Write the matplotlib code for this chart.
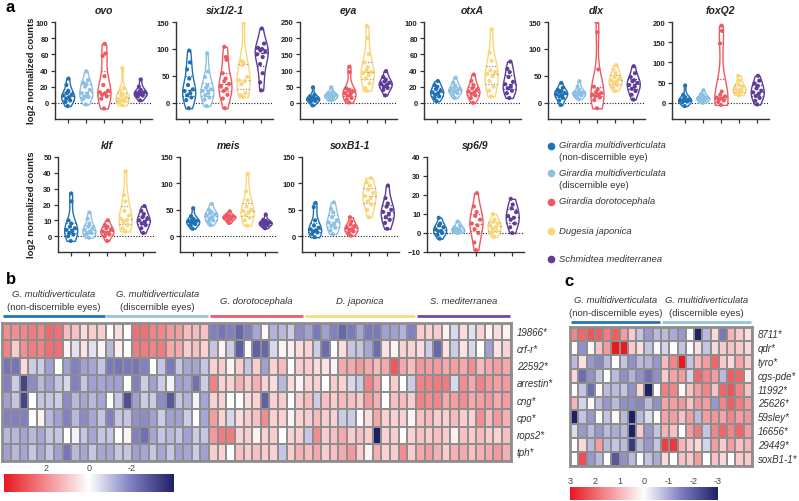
import numpy as np
import matplotlib
matplotlib.use('Agg')
import matplotlib.pyplot as plt
from matplotlib.colors import LinearSegmentedColormap, Normalize, to_rgb
from matplotlib.lines import Line2D
from matplotlib import mlab

plt.rcParams['font.family'] = ['Liberation Sans', 'DejaVu Sans']

# ---------------- data: panel a (violins) ----------------
groups = ['Girardia multidiverticulata', 'Girardia multidiverticulata',
          'Girardia dorotocephala', 'Dugesia japonica', 'Schmidtea mediterranea']
group_sub = ['(non-discernible eye)', '(discernible eye)', '', '', '']
group_colors = ['#2171b5', '#8cc1e4', '#ef5a62', '#fcd574', '#5e3c99']

genes_row1 = ['ovo', 'six1/2-1', 'eya', 'otxA', 'dlx', 'foxQ2']
genes_row2 = ['klf', 'meis', 'soxB1-1', 'sp6/9']
ymax_row1 = [100, 150, 250, 100, 150, 200]
ystep_row1 = [20, 50, 50, 20, 50, 50]
ymax_row2 = [50, 150, 150, 40]
ystep_row2 = [10, 50, 50, 10]
ymin_row2 = [-10, -30, -30, -10]

ovo = [[30, 22, 15, 12, 10, 9, 7, 5, 3, 1, -4],
       [39, 28, 25, 23, 20, 16, 12, 10, 8, 7, 5, -2],
       [73, 61, 58, 33, 22, 15, 13, 12, 10, 8, 5, -7],
       [43, 18, 15, 11, 9, 7, 5, 4, 3, 2, 1, -3],
       [29, 20, 16, 14, 13, 12, 11, 10, 9, 8, 3]]
six12 = [[97, 75, 62, 45, 33, 25, 22, 18, 14, 10, 5, -10],
         [92, 58, 48, 32, 28, 25, 22, 18, 14, 10, 6, -6],
         [104, 85, 80, 55, 45, 40, 35, 30, 26, 22, 15, 8, -10],
         [148, 78, 75, 70, 48, 42, 40, 35, 18, 14, 11],
         [138, 110, 102, 100, 97, 95, 90, 85, 72, 55, 38, 23]]
eya = [[48, 25, 20, 18, 15, 13, 12, 10, 8, 6, 3, -8],
       [48, 35, 30, 28, 26, 24, 22, 20, 18, 15, 10, 8],
       [112, 95, 45, 40, 38, 35, 30, 26, 22, 15, 10, 1],
       [238, 200, 150, 125, 110, 100, 95, 92, 85, 75, 60, 45, 37],
       [98, 80, 72, 66, 62, 58, 55, 50, 46, 40, 23]]
otxA = [[27, 22, 20, 17, 15, 13, 12, 10, 8, 6, 2],
        [31, 25, 21, 19, 17, 16, 15, 14, 12, 10, 6],
        [35, 27, 22, 18, 16, 14, 13, 11, 9, 6, 0],
        [91, 62, 52, 40, 38, 36, 33, 27, 20, 15, 8],
        [51, 42, 38, 32, 26, 23, 20, 18, 15, 12, 6]]
dlx = [[37, 28, 24, 22, 20, 18, 16, 14, 12, 9, 4, -4],
       [40, 30, 24, 21, 19, 18, 17, 16, 14, 12, 7],
       [150, 131, 62, 30, 25, 20, 18, 15, 14, 12, 10, 5, -10],
       [70, 62, 55, 48, 45, 42, 40, 37, 33, 29, 22],
       [68, 55, 48, 42, 40, 37, 33, 30, 26, 22, 15, 6]]
foxQ2 = [[43, 20, 14, 10, 8, 6, 5, 4, 3, 1, -8],
         [31, 22, 18, 15, 13, 12, 10, 9, 7, 4, 0],
         [191, 178, 147, 28, 20, 16, 13, 11, 9, 6, 2, -5],
         [67, 55, 45, 40, 36, 33, 30, 27, 24, 19],
         [67, 55, 48, 42, 36, 30, 26, 22, 17, 12, 5, -4]]
klf = [[27, 22, 10, 8, 6, 5, 4, 3, 2, 1, 0, -3],
       [15, 11, 8, 6, 5, 4, 3, 2, 2, 1, -1],
       [10, 7, 6, 5, 4, 3, 2, 2, 1, 0, -3],
       [41, 26, 22, 16, 13, 11, 10, 9, 7, 5, 3],
       [19, 16, 14, 12, 11, 10, 9, 8, 7, 5, 2]]
meis = [[53, 38, 33, 31, 29, 28, 27, 25, 23, 20, 14],
        [61, 50, 46, 43, 41, 39, 36, 33, 30, 27, 21],
        [47, 41, 39, 38, 37, 36, 35, 34, 32, 29, 25],
        [118, 85, 68, 56, 50, 48, 45, 40, 35, 30, 20],
        [41, 31, 29, 27, 26, 25, 24, 23, 21, 19, 15]]
soxB11 = [[63, 55, 30, 20, 16, 13, 11, 9, 7, 4, -2],
          [64, 52, 45, 36, 30, 26, 23, 20, 16, 11, 4],
          [36, 28, 22, 19, 16, 14, 12, 9, 6, 1],
          [110, 102, 96, 88, 82, 76, 72, 66, 60, 50, 36],
          [96, 72, 62, 56, 50, 46, 41, 36, 31, 25, 14]]
sp69 = [[8, 5, 4, 3, 2, 1, 1, 0, -1, -3],
        [6, 4, 3, 2, 2, 1, 1, 0],
        [21, 14, 11, 9, 7, 5, 4, 2, 0, -5, -9],
        [10, 7, 6, 5, 4, 3, 2, 1, 0, -2],
        [18, 15, 13, 11, 9, 8, 7, 5, 3, 0]]

# ---------------- data: panel b heatmap ----------------
b_genes = ['19866*', 'crf-r*', '22592*', 'arrestin*', 'cng*', 'cpo*', 'rops2*', 'tph*']
b_groups = ['G. multidiverticulata', 'G. multidiverticulata', 'G. dorotocephala',
            'D. japonica', 'S. mediterranea']
b_group_sub = ['(non-discernible eyes)', '(discernible eyes)', '', '', '']
b_group_sizes = [12, 12, 11, 13, 11]
b_19866 = [2.0, 2.0, 2.1, 2.3, 2.1, 2.6, 2.5, 1.2, 1.1, 0.6, 0.9, 0.9,
           0.0, 0.6, 0.0, 2.5, 2.5, 2.2, 2.1, 1.8, 1.7, 1.2, 1.2, 1.1,
           -2.0, -2.2, -2.0, -2.5, -2.0, -1.4, 0.1, -1.2, -1.1, -0.8, -1.8,
           -1.5, -2.1, -1.5, -2.0, -2.5, -2.1, -1.4, -2.1, -2.1, -1.5, -1.5, -1.2, -2.0,
           0.9, 0.8, 0.9, 0.2, -0.6, 0.6, -0.5, 0.8, 0.2, 0.6, 0.2]
b_crfr = [2.2, 0.9, 2.0, 2.3, 2.2, 2.5, 2.5, 0.2, -0.5, 0.5, -0.5, 0.2,
          -1.1, 0.3, 0.0, 2.3, 2.3, 2.2, 2.3, 1.5, 1.5, 0.9, 1.1, 0.8,
          -0.9, 0.2, -0.8, -2.7, 0.0, -2.6, -2.5, -0.6, 0.2, 0.3, 0.6,
          0.8, -0.8, -2.4, 0.0, 0.6, -0.9, -0.9, -1.4, -2.4, 0.5, 0.2, 0.8, 0.8,
          0.6, -0.8, -2.5, 0.5, -0.8, 0.5, -0.6, 0.0, -1.5, 0.5, 0.8]
b_22592 = [-2.2, -2.2, 0.6, -0.8, -0.8, -1.5, 0.0, -1.5, -2.0, -1.5, -1.4, -0.9,
           -2.1, -2.2, -2.1, -2.2, -2.0, 0.0, -0.9, -2.1, -0.9, -1.4, -1.4, -0.9,
           0.8, 0.9, 0.2, 0.9, -0.9, 0.9, -1.5, 0.8, 1.2, 0.0, 0.9,
           0.9, 0.6, 0.5, 0.2, 1.5, 1.5, 1.8, 1.5, 1.2, 1.5, 2.9, 1.5, 1.2,
           1.8, 1.7, 1.8, 1.5, 1.7, 1.5, 2.0, 1.2, 1.5, 1.7, 1.5]
b_arrestin = [-2.0, -0.8, -3.2, -1.8, -1.1, -1.5, -0.9, -0.6, -2.0, -0.9, -1.5, -1.4,
              -1.5, -1.5, 0.0, -2.0, -0.8, -1.5, -0.8, -0.2, -1.5, -1.4, -2.3, -0.8,
              2.2, 0.8, 0.8, 1.4, 0.9, 1.4, 0.8, 0.6, -1.1, 0.6, 0.2,
              0.8, 0.8, 0.0, 0.9, 0.8, -0.6, -0.8, 2.2, 1.5, 0.0, 0.9, 0.0, -0.8,
              2.2, 2.2, 2.3, 2.3, -0.6, 2.0, 1.5, 2.2, 1.8, 1.7, 1.8]
b_cng = [-1.5, -0.9, -3.2, 0.0, -0.9, -0.9, -0.8, -1.8, -1.1, -1.4, -1.1, -1.4,
         0.0, -0.9, -3.0, -1.5, -0.8, -0.8, -1.8, -2.8, -0.9, -1.2, -0.2, -1.4,
         0.8, 0.8, 0.0, 0.0, 0.6, 0.8, -2.6, 0.8, 0.9, 0.0, 0.9,
         1.2, -0.8, 1.1, 0.9, 1.2, 1.1, 0.9, 1.8, 1.4, 0.0, 1.1, 1.2, 0.9,
         2.2, 2.0, 2.1, 1.5, 1.7, 2.0, 1.5, 1.7, 1.8, 1.5, 1.7]
b_cpo = [-2.0, -2.0, -2.0, 0.0, 0.2, -1.1, -1.5, -2.0, -1.1, -1.8, -1.4, -0.9,
         -2.0, -0.9, -0.9, -1.7, -1.8, -1.5, -0.8, -1.5, -1.5, -0.8, 0.0, -1.4,
         1.7, 0.8, -0.6, 0.6, 0.9, 1.1, 2.0, 0.8, 0.8, 0.2, 0.8,
         0.9, 1.2, 0.9, 0.8, -0.8, -0.8, 0.0, 0.6, 1.5, 0.8, 0.8, 0.8, 0.2,
         1.1, 1.2, 0.9, 0.8, 1.2, 0.9, 0.8, 2.0, 1.2, 1.8, 1.4]
b_rops2 = [-1.1, -1.1, -1.4, -1.1, -1.4, -0.9, -0.9, 0.0, -0.2, -0.9, -1.4, -0.9,
           -0.9, 0.0, 0.2, -2.0, -2.3, -1.4, -0.9, -1.1, -0.9, -1.5, -0.8, -0.9,
           1.8, 2.3, 2.3, 0.8, 0.9, 0.2, 0.8, 0.9, 0.0, 0.8, 0.9,
           -0.9, 2.0, 0.9, 1.1, 1.5, 0.9, 1.1, 0.9, -4.0, 0.8, 0.9, 0.0, 0.8,
           1.1, 0.9, 1.1, 0.9, 0.2, 1.1, 0.9, 1.2, 0.9, 0.8, 1.1]
b_tph = [-1.5, -1.1, -1.4, -0.9, -1.4, -0.9, -1.5, -2.2, -1.1, -1.4, -0.9, -1.4,
         -1.4, -0.9, -0.9, -1.5, -1.4, -0.9, -1.4, -0.9, -1.5, -1.4, -0.8, -1.5,
         0.9, 0.8, 0.0, 1.1, 0.9, 1.1, 0.9, 0.8, -0.9, 0.9, 1.4,
         1.2, 1.5, 0.9, 1.1, 1.5, 1.8, 0.9, 0.2, 1.4, 0.8, 0.9, 2.0, 0.9,
         1.5, 1.7, 1.4, 0.9, 1.4, 1.5, 1.1, 1.4, 1.5, 1.8, 1.4]
b_ticks = [2, 0, -2]

# ---------------- data: panel c heatmap ----------------
c_genes = ['8711*', 'qdr*', 'tyro*', 'cgs-pde*', '11992*', '25626*', '59sley*',
           '16656*', '29449*', 'soxB1-1*']
c_group_sizes = [11, 11]
c_8711 = [1.6, 2.0, 2.2, 2.1, 1.7, 2.1, 1.3, 0.7, -0.7, -1.2, -0.8,
          -0.8, -1.0, -1.2, 0.0, -3.0, -0.8, 0.5, -1.6, 1.0, 0.7, 0.4]
c_qdr = [0.0, -1.3, 0.1, 0.8, 1.3, 3.0, 3.0, 0.7, 0.4, -0.7, 0.1,
         -0.5, 0.0, -0.7, 0.0, 0.4, -0.7, 0.5, 0.7, 0.8, 0.7, 0.5]
c_tyro = [-0.8, 0.4, -1.2, -1.4, -0.8, 0.0, -0.7, -1.3, -0.8, -0.9, -1.2,
          0.9, 1.6, 3.0, -0.7, 1.0, 1.3, 2.0, 0.7, 0.5, 1.2, 0.7]
c_cgspde = [0.5, -1.8, -1.3, -0.7, 0.0, -0.8, -1.3, -0.9, -1.3, -1.7, -1.3,
            0.7, 1.2, 1.3, -0.5, 2.0, 1.6, 1.3, -0.8, 2.1, 2.0, 0.3]
c_11992 = [0.0, -0.7, -1.8, 0.1, -0.8, -0.8, -0.7, -1.3, 0.5, -3.0, 0.0,
           1.7, 1.6, 0.1, 0.8, 1.3, 1.6, 0.8, 2.0, 2.2, 1.6, 0.8]
c_25626 = [1.0, -0.5, 0.1, -0.8, -1.2, -0.8, -1.3, -1.3, -1.4, -0.8, -1.3,
           1.2, 1.3, 1.4, 0.8, 1.4, 1.3, -1.2, 1.6, 2.1, 1.7, 1.3]
c_59sley = [-3.0, -0.7, -1.2, 0.0, -0.7, 0.1, -0.8, -3.0, -0.8, -0.4, 0.0,
            1.2, 1.3, 0.8, 1.3, -0.8, 1.3, 1.4, 1.2, 1.6, 1.3, 1.4]
c_16656 = [-0.4, -1.2, -0.8, -1.2, -0.8, -1.0, -0.8, -3.0, 0.7, -1.2, -0.7,
           1.0, 0.8, 0.0, 1.3, 1.8, -0.7, 1.6, 2.0, 1.6, 2.0, 1.3]
c_29449 = [0.0, 0.5, -0.8, 1.3, -0.8, -0.7, -0.8, -2.6, -0.8, -1.2, -0.7,
           2.5, 2.6, 1.0, 0.7, 0.5, -0.5, 1.3, 0.7, 1.3, 0.8, 1.0]
c_soxb11 = [0.0, 2.3, -1.2, -0.8, 0.0, -2.1, -1.3, -0.8, 0.0, -0.7, -1.0,
            0.5, 0.0, 0.8, 0.7, 1.3, 0.0, 0.8, 0.5, 0.0, 0.7, 0.7]
c_ticks = [3, 2, 1, 0, -1, -2, -3]

# ---------------- figure ----------------
W, H = 799, 502
fig = plt.figure(figsize=(W / 100, H / 100), dpi=100)


def px_axes(x0, y0, x1, y1):
    return fig.add_axes([x0 / W, 1 - y1 / H, (x1 - x0) / W, (y1 - y0) / H])


def fx(x):
    return x / W


def fy(y):
    return 1 - y / H


def darker(c, f=0.75):
    r, g, b = to_rgb(c)
    return (r * f, g * f, b * f)


jit = [0.0, -0.55, 0.55, -0.3, 0.3, -0.8, 0.8, -0.15, 0.15, -0.65, 0.65, 0.42, -0.42]


def violin_panel(ax, data, title, ymin, ymax, ystep, ticks_min=0):
    for i, vals in enumerate(data):
        col = group_colors[i]
        v = np.array(vals, float)
        kde = mlab.GaussianKDE(v, 'scott')
        ys = np.linspace(v.min(), v.max(), 150)
        d = kde.evaluate(ys)
        hw = d / d.max() * 0.36
        ax.fill_betweenx(ys, i - hw, i + hw, facecolor='white', edgecolor=col,
                         linewidth=1.0, zorder=2)
        q1, med, q3 = np.percentile(v, [25, 50, 75])
        lc = '#9a9a9a' if i == 3 else darker(col, 0.85)
        for q, ls in ((q1, (0, (1, 1.2))), (med, (0, (3, 1.5))), (q3, (0, (1, 1.2)))):
            w = np.interp(q, ys, hw)
            ax.plot([i - w, i + w], [q, q], color=lc, ls=ls, lw=0.9, zorder=3)
        order = np.argsort(v)
        for j, k in enumerate(order):
            w = np.interp(v[k], ys, hw)
            ax.scatter(i + jit[j % len(jit)] * w * 0.8, v[k], s=9, color=col,
                       edgecolors='none', zorder=4)
    ax.axhline(0, color='#222222', lw=0.8, ls=(0, (1, 1.5)), zorder=1)
    ax.set_xlim(-0.7, 4.65)
    ax.set_ylim(ymin, ymax)
    ax.set_yticks(np.arange(ticks_min, ymax + 0.1, ystep))
    ax.set_xticks(range(5))
    ax.set_xticklabels([])
    for s in ('top', 'right'):
        ax.spines[s].set_visible(False)
    for s in ('left', 'bottom'):
        ax.spines[s].set_color('#333333')
        ax.spines[s].set_linewidth(1.0)
    ax.tick_params(axis='both', length=3, width=0.9, color='#333333',
                   labelsize=5.5, pad=1.5)
    for lab in ax.get_yticklabels():
        lab.set_fontweight('bold')
        lab.set_color('#222222')
    ax.set_facecolor('none')
    bb = ax.get_position()
    hpx = bb.height * H
    ax.text(0.5, 1 + 12 / hpx, title, transform=ax.transAxes, ha='center',
            va='center', fontsize=7.5, fontweight='bold', fontstyle='italic',
            color='#222222')


row1_data = [ovo, six12, eya, otxA, dlx, foxQ2]
row1_left = [55, 176, 300, 424, 548, 672]
for k in range(6):
    ax = px_axes(row1_left[k], 23, row1_left[k] + 97, 120)
    violin_panel(ax, row1_data[k], genes_row1[k], -0.2 * ymax_row1[k],
                 ymax_row1[k], ystep_row1[k])

row2_data = [klf, meis, soxB11, sp69]
row2_left = [58, 180, 302, 427]
for k in range(4):
    ax = px_axes(row2_left[k], 158, row2_left[k] + 97, 253)
    tmin = -10 if k == 3 else 0
    violin_panel(ax, row2_data[k], genes_row2[k], ymin_row2[k],
                 ymax_row2[k], ystep_row2[k], ticks_min=tmin)

for yc in (71, 205):
    fig.text(fx(31), fy(yc), 'log2 normalized counts', rotation=90,
             ha='center', va='center', fontsize=6.8, fontweight='bold',
             color='#222222')

# legend
leg_y = [146.5, 174, 202.5, 231.5, 259.5]
for i in range(5):
    fig.add_artist(Line2D([fx(551)], [fy(leg_y[i])], marker='o',
                          markersize=5.5, color=group_colors[i],
                          markeredgewidth=0, linestyle='none'))
    fig.text(fx(559), fy(leg_y[i] - 0.5), groups[i], fontsize=6.8,
             fontstyle='italic', va='center', ha='left', color='#333333')
    if group_sub[i]:
        fig.text(fx(559), fy(leg_y[i] + 11.5), group_sub[i], fontsize=6.8,
                 va='center', ha='left', color='#333333')

# panel letters
fig.text(fx(5), fy(7.5), 'a', fontsize=12, fontweight='bold', va='center', ha='left')
fig.text(fx(6), fy(280), 'b', fontsize=12, fontweight='bold', va='center', ha='left')
fig.text(fx(564), fy(282), 'c', fontsize=12, fontweight='bold', va='center', ha='left')

# colormap
cmap = LinearSegmentedColormap.from_list(
    'rwb', [(0.0, '#1f2166'), (0.25, '#7f7fc2'), (0.5, '#ffffff'),
            (0.75, '#f28e92'), (1.0, '#e8191f')])
grid_col = '#8e8e8e'


def heatmap(ax, M, vmax, genes, sizes, subs, names, colors, ytext, yline):
    nr, nc = M.shape
    ax.pcolormesh(M, cmap=cmap, norm=Normalize(-vmax, vmax), edgecolors=grid_col,
                  linewidth=1.1)
    ax.set_xlim(0, nc)
    ax.set_ylim(nr, 0)
    ax.set_xticks([])
    ax.set_yticks([])
    for s in ax.spines.values():
        s.set_color(grid_col)
        s.set_linewidth(2.0)
    for r, g in enumerate(genes):
        ax.text(nc + 0.7, r + 0.5, g, fontsize=7, fontstyle='italic', va='center',
                ha='left', color='#333333')
    start = 0
    for gi, n in enumerate(sizes):
        ax.plot([start + 0.08, start + n - 0.08], [yline, yline], color=colors[gi],
                lw=2.0, clip_on=False, solid_capstyle='butt')
        xc = start + n / 2
        if subs[gi]:
            ax.text(xc, ytext[0], names[gi], fontsize=6.8, fontstyle='italic',
                    ha='center', va='center', color='#333333')
            ax.text(xc, ytext[1], subs[gi], fontsize=6.8, ha='center',
                    va='center', color='#333333')
        else:
            ax.text(xc, ytext[2], names[gi], fontsize=6.8, fontstyle='italic',
                    ha='center', va='center', color='#333333')
        start += n


line_colors = ['#2672b6', '#93c4e4', '#ef5b63', '#fdd882', '#6a4ca3']

B = np.array([b_19866, b_crfr, b_22592, b_arrestin, b_cng, b_cpo, b_rops2, b_tph])
axb = px_axes(2.3, 324, 510.7, 462)
rh_b = 138 / 8
heatmap(axb, B, 4, b_genes, b_group_sizes, b_group_sub, b_groups, line_colors,
        [-(324 - 295) / rh_b, -(324 - 308) / rh_b, -(324 - 302) / rh_b],
        -(324 - 317) / rh_b)

C = np.array([c_8711, c_qdr, c_tyro, c_cgspde, c_11992, c_25626, c_59sley,
              c_16656, c_29449, c_soxb11])
axc = px_axes(570, 328, 752, 467)
rh_c = 139 / 10
heatmap(axc, C, 3, c_genes, c_group_sizes, b_group_sub[:2], b_groups[:2],
        line_colors[:2],
        [-(328 - 301) / rh_c, -(328 - 314) / rh_c, 0], -(328 - 322.7) / rh_c)


def colorbar(x0, y0, x1, y1, vmax, ticks):
    ax = px_axes(x0, y0, x1, y1)
    grad = np.linspace(vmax, -vmax, 256).reshape(1, -1)
    ax.imshow(grad, cmap=cmap, norm=Normalize(-vmax, vmax), aspect='auto',
              extent=[vmax, -vmax, 0, 1])
    ax.set_xlim(vmax, -vmax)
    ax.set_yticks([])
    ax.xaxis.tick_top()
    ax.set_xticks(ticks)
    ax.set_xticklabels([str(t) for t in ticks])
    ax.tick_params(axis='x', length=0, labelsize=6.5, pad=1.5, colors='#444444')
    for s in ax.spines.values():
        s.set_visible(False)


colorbar(4, 475, 174, 493, 4, b_ticks)
colorbar(570, 488, 718, 501, 3, c_ticks)

fig.savefig('out.png', dpi=100)
